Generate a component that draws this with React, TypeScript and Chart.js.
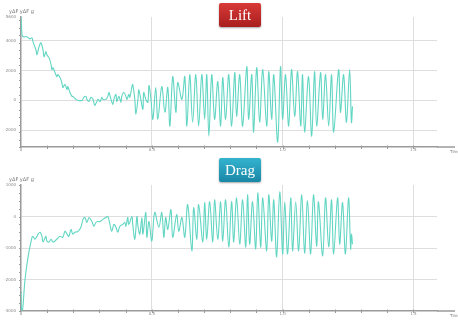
import React, { useEffect, useRef } from "react";
import { Chart, registerables } from "chart.js";

Chart.register(...registerables);

// ---------- Lift ----------
const liftTime = [
  0, 0.002, 0.004, 0.008, 0.023, 0.034, 0.042, 0.046, 0.057, 0.061, 0.069, 0.076, 0.084, 0.088, 0.095, 0.099,
  0.107, 0.115, 0.118, 0.122, 0.13, 0.137, 0.141, 0.149, 0.156, 0.16, 0.168, 0.176, 0.179, 0.187, 0.195, 0.198,
  0.21, 0.218, 0.233, 0.24, 0.248, 0.252, 0.26, 0.267, 0.275, 0.282, 0.29, 0.294, 0.302, 0.309, 0.313, 0.324,
  0.332, 0.336, 0.344, 0.351, 0.355, 0.363, 0.366, 0.374, 0.382, 0.385, 0.393, 0.401, 0.405, 0.412, 0.416, 0.424,
  0.427, 0.435, 0.439, 0.447, 0.45, 0.458, 0.466, 0.469, 0.477, 0.485, 0.489, 0.496, 0.504, 0.515, 0.523, 0.538,
  0.55, 0.561, 0.569, 0.58, 0.592, 0.599, 0.615, 0.626, 0.634, 0.645, 0.656, 0.668, 0.679, 0.691, 0.702, 0.71,
  0.718, 0.729, 0.74, 0.752, 0.763, 0.771, 0.782, 0.794, 0.805, 0.817, 0.824, 0.836, 0.847, 0.863, 0.87, 0.882,
  0.889, 0.901, 0.912, 0.924, 0.939, 0.947, 0.958, 0.966, 0.981, 0.992, 1.0, 1.011, 1.023, 1.034, 1.046, 1.057,
  1.069, 1.076, 1.084, 1.099, 1.111, 1.122, 1.13, 1.145, 1.153, 1.164, 1.176, 1.187, 1.195, 1.214, 1.221, 1.233,
  1.244, 1.256, 1.263, 1.267,
];
const liftValue = [
  5600, 4930, 4400, 4270, 4270, 4130, 4200, 3930, 3400, 3070, 3600, 3870, 3400, 2930, 3270, 3070,
  2870, 2400, 2070, 2200, 1870, 1600, 1730, 1530, 1200, 870, 1070, 730, 930, 530, 270, 270,
  70, 0, 0, 200, 270, 70, -70, 200, 70, -330, -70, 70, -70, 200, 70, 70,
  270, 530, 70, -270, 70, 400, -70, 270, -130, 270, 530, 270, 70, 400, 200, 930,
  1070, 70, -930, 70, 730, 70, -600, 530, 70, -130, 1000, 200, -1270, 870, -1270, 930,
  -800, 870, -1730, 1600, -800, 1200, 70, 1600, -1730, 1730, -1470, 1730, -1730, 1730, -1270, 1730,
  -2400, 1730, -1270, 1270, -1730, 1530, -1270, 1730, -1730, 1870, -1070, 1730, -1730, 2270, -1270, 1730,
  -2130, 2200, -1470, 2070, -1730, 1930, -1270, 1730, -2800, 2270, -1270, 1730, -1730, 2070, -1070, 1930,
  -1730, 1730, -2130, 1600, -2400, 1930, -1730, 1870, -1270, 1730, -1730, 1730, -2130, 2070, -800, 1730,
  -1470, 2070, -1470, -400,
];
const liftTicks = [-2000, 0, 2000, 4000];

// ---------- Drag ----------
const dragTime = [
  0, 0.002, 0.006, 0.015, 0.027, 0.042, 0.046, 0.053, 0.061, 0.065, 0.073, 0.08, 0.084, 0.095, 0.099, 0.107,
  0.115, 0.122, 0.13, 0.137, 0.149, 0.16, 0.168, 0.176, 0.183, 0.191, 0.198, 0.206, 0.218, 0.229, 0.237, 0.244,
  0.252, 0.26, 0.271, 0.279, 0.286, 0.294, 0.302, 0.313, 0.324, 0.332, 0.34, 0.347, 0.355, 0.363, 0.37, 0.378,
  0.389, 0.397, 0.401, 0.408, 0.412, 0.424, 0.427, 0.435, 0.443, 0.447, 0.454, 0.462, 0.466, 0.477, 0.481, 0.489,
  0.5, 0.511, 0.527, 0.538, 0.546, 0.553, 0.561, 0.573, 0.58, 0.595, 0.603, 0.615, 0.626, 0.637, 0.653, 0.66,
  0.672, 0.679, 0.695, 0.702, 0.71, 0.721, 0.733, 0.74, 0.752, 0.763, 0.771, 0.782, 0.794, 0.805, 0.813, 0.824,
  0.836, 0.847, 0.859, 0.866, 0.874, 0.885, 0.897, 0.905, 0.916, 0.924, 0.939, 0.947, 0.958, 0.966, 0.977, 0.989,
  1.0, 1.008, 1.019, 1.031, 1.038, 1.05, 1.061, 1.073, 1.084, 1.095, 1.107, 1.118, 1.13, 1.137, 1.153, 1.164,
  1.176, 1.187, 1.195, 1.21, 1.218, 1.229, 1.24, 1.252, 1.26, 1.263, 1.267,
];
const dragValue = [
  -2380, -2970, -2970, -2030, -1280, -660, -630, -720, -630, -560, -500, -630, -810, -630, -780, -810,
  -720, -810, -780, -720, -630, -660, -470, -560, -630, -410, -560, -500, -470, -340, -90, -30,
  -190, -30, -160, -310, -190, -160, -160, -90, -30, 0, -250, -470, -250, -340, -500, -310,
  -250, -190, -310, -30, -250, 0, -250, -720, 0, -310, -560, -30, -560, 130, -660, -160,
  -780, 130, -340, 130, -660, -30, -410, 220, -660, 60, -470, -30, -660, 380, -1090, 280,
  -720, 380, -810, 440, -720, 470, -810, 530, -720, 470, -780, 530, -970, 470, -810, 590,
  -880, 530, -970, 690, -880, 470, -1030, 750, -970, 590, -1090, 690, -780, 530, -1280, 780,
  -1190, 470, -1190, 590, -1090, 470, -1090, 690, -1160, 500, -1190, 690, -940, 470, -1250, 590,
  -970, 530, -1190, 590, -880, 440, -1190, 590, -1030, -560, -880,
];
const dragTicks = [-3000, -2000, -1000, 0, 1000];

const timeTicks = [0, 0.5, 1.0, 1.5];
const timeLabels = ["0", "0.5", "1.0", "1.5"];
const yTitle = "yΔF yΔF g";
const xTitle = "Time";

type Cfg = {
  time: number[];
  values: number[];
  yMin: number;
  yMax: number;
  yTicks: number[];
  topLabels: boolean;
  bottomLabel: boolean;
  padTop: number;
  xHeight: number;
  minorStep: number;
};

const LINE = "#62d6c3";
const AXIS = "#9a9a9a";
const GRID = "#dedede";
const TICKFONT = { size: 4, family: "DejaVu Sans" };

function makeChart(canvas: HTMLCanvasElement, c: Cfg) {
  const data = c.time.map((t, i) => ({ x: t, y: c.values[i] }));
  const extras = {
    id: "extras",
    afterDraw(chart: any) {
      const { ctx, chartArea, scales } = chart;
      const { left, right, top, bottom } = chartArea;
      const y = scales.y;
      const x = scales.x;
      ctx.save();
      ctx.strokeStyle = AXIS;
      ctx.lineWidth = 1;
      // minor y ticks
      for (let v = c.yMin; v <= c.yMax + 1; v += c.minorStep) {
        const p = Math.round(y.getPixelForValue(v)) + 0.5;
        ctx.beginPath();
        ctx.moveTo(left - 2, p);
        ctx.lineTo(left, p);
        ctx.stroke();
      }
      // minor x ticks
      for (let k = 1; k <= 15; k++) {
        const p = Math.round(x.getPixelForValue(k / 10)) + 0.5;
        ctx.beginPath();
        ctx.moveTo(p, bottom - 1.5);
        ctx.lineTo(p, bottom + 2);
        ctx.stroke();
      }
      // x axis extension
      ctx.lineWidth = 1.5;
      ctx.beginPath();
      ctx.moveTo(right, bottom);
      ctx.lineTo(455, bottom);
      ctx.stroke();
      // titles
      ctx.fillStyle = "#777";
      ctx.font = "5px 'DejaVu Sans'";
      ctx.textBaseline = "alphabetic";
      ctx.textAlign = "left";
      ctx.fillText(yTitle, 9, top - 4);
      ctx.font = "4px 'DejaVu Sans'";
      ctx.textAlign = "center";
      ctx.fillText(xTitle, 455, bottom + 6);
      ctx.restore();
    },
  };

  return new Chart(canvas, {
    type: "line",
    data: {
      datasets: [
        {
          data,
          borderColor: LINE,
          borderWidth: 1.1,
          pointRadius: 0,
          tension: 0.35,
          fill: false,
        },
      ],
    },
    options: {
      animation: false,
      responsive: false,
      events: [],
      layout: { padding: { top: c.padTop, right: 21, left: 0, bottom: 0 } },
      plugins: { legend: { display: false }, tooltip: { enabled: false }, title: { display: false } },
      scales: {
        x: {
          type: "linear",
          min: 0,
          max: 1.59,
          afterFit: (s: any) => {
            s.height = c.xHeight;
          },
          afterBuildTicks: (s: any) => {
            s.ticks = timeTicks.map((v) => ({ value: v }));
          },
          ticks: {
            font: TICKFONT,
            color: "#888",
            padding: 1,
            maxRotation: 0,
            autoSkip: false,
            callback: (v: any) => {
              const i = timeTicks.indexOf(Number(v));
              return i >= 0 ? timeLabels[i] : "";
            },
          },
          grid: {
            drawTicks: false,
            color: (ctx: any) => (ctx.tick && ctx.tick.value === 0 ? "rgba(0,0,0,0)" : GRID),
            lineWidth: 1,
          },
          border: { color: AXIS, width: 1.5 },
        },
        y: {
          type: "linear",
          min: c.yMin,
          max: c.yMax,
          afterFit: (s: any) => {
            s.width = 21;
          },
          afterBuildTicks: (s: any) => {
            const list = c.yTicks.slice();
            if (c.topLabels && list.indexOf(c.yMax) < 0) list.push(c.yMax);
            s.ticks = list.map((v) => ({ value: v }));
          },
          ticks: {
            font: TICKFONT,
            color: "#888",
            padding: 5,
            autoSkip: false,
            callback: (v: any) => {
              const n = Number(v);
              if (n === c.yMin && !c.bottomLabel) return "";
              return String(Math.round(n));
            },
          },
          grid: {
            drawTicks: false,
            color: (ctx: any) =>
              ctx.tick && (ctx.tick.value === c.yMax || ctx.tick.value === c.yMin) ? "rgba(0,0,0,0)" : GRID,
            lineWidth: 1,
          },
          border: { color: AXIS, width: 1.5 },
        },
      },
    },
    plugins: [extras],
  } as any);
}

function Panel({ cfg, top }: { cfg: Cfg; top: number }) {
  const ref = useRef<HTMLCanvasElement | null>(null);
  useEffect(() => {
    if (!ref.current) return;
    const ch = makeChart(ref.current, cfg);
    return () => ch.destroy();
  }, []);
  return (
    <canvas
      ref={ref}
      width={458}
      height={160}
      style={{ position: "absolute", left: 0, top, width: 458, height: 160 }}
    />
  );
}

function Badge({ text, top, from, to }: { text: string; top: number; from: string; to: string }) {
  return (
    <div
      style={{
        position: "absolute",
        left: 219,
        top,
        width: 42,
        height: 24,
        background: `linear-gradient(${from}, ${to})`,
        borderRadius: 2,
        color: "#fff",
        fontFamily: "'Liberation Serif', serif",
        fontSize: 15,
        display: "flex",
        alignItems: "center",
        justifyContent: "center",
        boxShadow: "0 1px 2px rgba(0,0,0,0.35)",
      }}
    >
      {text}
    </div>
  );
}

export default function App() {
  const liftCfg: Cfg = {
    time: liftTime,
    values: liftValue,
    yMin: -3130,
    yMax: 5600,
    yTicks: liftTicks,
    topLabels: true,
    bottomLabel: false,
    padTop: 17,
    xHeight: 13,
    minorStep: 500,
  };
  const dragCfg: Cfg = {
    time: dragTime,
    values: dragValue,
    yMin: -3000,
    yMax: 1000,
    yTicks: dragTicks,
    topLabels: true,
    bottomLabel: true,
    padTop: 25,
    xHeight: 9,
    minorStep: 250,
  };
  return (
    <div style={{ position: "fixed", left: 0, top: 0, width: 458, height: 320, background: "#fff" }}>
      <Panel cfg={liftCfg} top={0} />
      <Panel cfg={dragCfg} top={160} />
      <Badge text="Lift" top={3} from="#d83a37" to="#a81e1e" />
      <Badge text="Drag" top={158} from="#33b3cf" to="#1a87a6" />
    </div>
  );
}
